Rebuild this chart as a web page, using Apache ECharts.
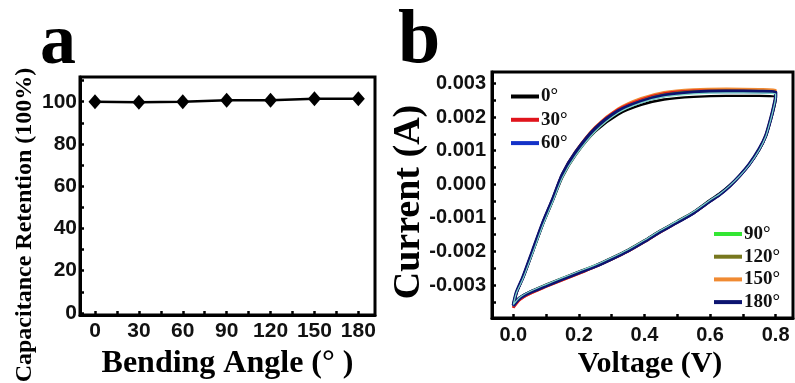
<!DOCTYPE html>
<html><head><meta charset="utf-8">
<script src="https://cdn.jsdelivr.net/npm/echarts@6/dist/echarts.min.js"></script>
<style>html,body{margin:0;padding:0;background:#fff}#c{width:795px;height:383px}</style>
</head><body><div id="c"></div>
<script>
// ---- Panel a data ----
const bendAngles = [0, 30, 60, 90, 120, 150, 180];
const retention = [100, 99.8, 100, 100.7, 100.7, 101.4, 101.4];
const aXLabels = [0, 30, 60, 90, 120, 150, 180];
const aXTicks = [0, 15, 30, 45, 60, 75, 90, 105, 120, 135, 150, 165, 180];
const aYLabels = [0, 20, 40, 60, 80, 100];
const aYTicks = [0, 10, 20, 30, 40, 50, 60, 70, 80, 90, 100, 110];

// ---- Panel b data (voltage in V, current in mA) ----
const cvVoltage = [0, 0.01, 0.03, 0.06, 0.09, 0.12, 0.15, 0.19, 0.25, 0.32, 0.39, 0.46, 0.55, 0.65, 0.75, 0.8,
  0.8, 0.795, 0.785, 0.77, 0.75, 0.72, 0.69, 0.66, 0.63, 0.6, 0.55, 0.5, 0.45, 0.4, 0.35, 0.3, 0.25, 0.2, 0.15, 0.1, 0.05, 0.02, 0];
const current0 = [-3.56, -3.21, -2.78, -2.00, -1.20, -0.50, 0.22, 0.87, 1.57, 2.08, 2.36, 2.52, 2.60, 2.63, 2.63, 2.61,
  2.52, 2.27, 1.90, 1.42, 1.02, 0.59, 0.26, -0.03, -0.27, -0.47, -0.82, -1.10, -1.37, -1.67, -1.95, -2.19, -2.41, -2.60, -2.79, -2.99, -3.20, -3.37, -3.56];
const current30 = [-3.68, -3.23, -2.75, -1.95, -1.14, -0.44, 0.31, 0.97, 1.69, 2.23, 2.52, 2.70, 2.78, 2.79, 2.77, 2.75,
  2.62, 2.35, 1.95, 1.45, 1.04, 0.59, 0.24, -0.06, -0.31, -0.51, -0.86, -1.14, -1.42, -1.72, -2.00, -2.24, -2.46, -2.66, -2.85, -3.05, -3.26, -3.44, -3.68];
const current60 = [-3.62, -3.21, -2.74, -1.94, -1.13, -0.43, 0.31, 0.96, 1.67, 2.19, 2.47, 2.65, 2.73, 2.75, 2.74, 2.72,
  2.60, 2.34, 1.94, 1.44, 1.04, 0.59, 0.24, -0.06, -0.31, -0.51, -0.86, -1.14, -1.41, -1.71, -1.99, -2.23, -2.45, -2.64, -2.83, -3.03, -3.23, -3.40, -3.62];
const current90 = [-3.58, -3.22, -2.80, -2.03, -1.23, -0.53, 0.20, 0.85, 1.57, 2.12, 2.42, 2.60, 2.69, 2.72, 2.71, 2.69,
  2.58, 2.32, 1.92, 1.42, 1.02, 0.58, 0.24, -0.04, -0.28, -0.47, -0.81, -1.09, -1.36, -1.66, -1.94, -2.18, -2.40, -2.59, -2.78, -2.98, -3.19, -3.36, -3.58];
const current120 = [-3.63, -3.21, -2.76, -1.97, -1.17, -0.47, 0.28, 0.93, 1.64, 2.18, 2.48, 2.67, 2.76, 2.78, 2.77, 2.75,
  2.62, 2.35, 1.95, 1.45, 1.05, 0.60, 0.25, -0.05, -0.30, -0.50, -0.85, -1.13, -1.40, -1.70, -1.98, -2.22, -2.44, -2.63, -2.82, -3.02, -3.22, -3.39, -3.63];
const current150 = [-3.66, -3.22, -2.75, -1.95, -1.14, -0.43, 0.32, 0.98, 1.71, 2.25, 2.56, 2.74, 2.82, 2.84, 2.83, 2.81,
  2.66, 2.38, 1.97, 1.46, 1.05, 0.60, 0.25, -0.05, -0.30, -0.51, -0.86, -1.14, -1.42, -1.72, -2.00, -2.24, -2.46, -2.66, -2.85, -3.05, -3.26, -3.43, -3.66];
const current180 = [-3.60, -3.20, -2.75, -1.95, -1.15, -0.45, 0.30, 0.95, 1.66, 2.18, 2.46, 2.64, 2.74, 2.77, 2.76, 2.74,
  2.62, 2.35, 1.95, 1.45, 1.05, 0.60, 0.25, -0.05, -0.30, -0.50, -0.85, -1.13, -1.40, -1.70, -1.98, -2.22, -2.44, -2.63, -2.82, -3.02, -3.22, -3.38, -3.60];
const cvNames = ['0°', '30°', '60°', '90°', '120°', '150°', '180°'];
const cvColors = ['#000000', '#e0141c', '#1432c8', '#33e633', '#77771e', '#f08a32', '#0c1470'];
const cvCurrents = [current0, current30, current60, current90, current120, current150, current180];
const drawOrder = [5, 1, 4, 0, 2, 6, 3];
const bXLabels = [0, 0.2, 0.4, 0.6, 0.8];
const bXTicks = [0, 0.1, 0.2, 0.3, 0.4, 0.5, 0.6, 0.7, 0.8];
const bYLabels = [-3, -2, -1, 0, 1, 2, 3];
const bYTicks = [-3.5, -3, -2.5, -2, -1.5, -1, -0.5, 0, 0.5, 1, 1.5, 2, 2.5, 3];

const sans = 'Liberation Sans';
const serif = 'Liberation Serif';
const chart = echarts.init(document.getElementById('c'), null, {renderer: 'canvas'});

const lineWidths = {0: 2.4, 1: 2.4, 2: 2.4, 3: 1.2, 4: 2.4, 5: 2.4, 6: 3.4};
const cvSeries = drawOrder.map(i => ({
  name: cvNames[i], type: 'line', xAxisIndex: 1, yAxisIndex: 1,
  data: cvVoltage.map((v, k) => [v, cvCurrents[i][k]]),
  showSymbol: false, smooth: 0.25, color: cvColors[i],
  lineStyle: {width: lineWidths[i], color: i === 3 ? '#7fd8c8' : cvColors[i]}, z: 3
}));

const option = {
  animation: false,
  backgroundColor: '#fff',
  grid: [
    {left: 80, top: 77, width: 295, height: 238, show: true, borderColor: '#000', borderWidth: 3, z: 5},
    {left: 492, top: 72, width: 301, height: 246, show: true, borderColor: '#000', borderWidth: 3, z: 5}
  ],
  xAxis: [
    {type: 'value', gridIndex: 0, min: -10.25, max: 191.4,
      axisLine: {onZero: false, lineStyle: {color: '#000', width: 3}},
      axisTick: {inside: true, length: 4, lineStyle: {width: 2.5, color: '#000'}, customValues: aXTicks},
      axisLabel: {customValues: aXLabels, color: '#111', fontFamily: sans, fontWeight: 'bold', fontSize: 21, margin: 6},
      splitLine: {show: false}},
    {type: 'value', gridIndex: 1, min: -0.065, max: 0.853,
      axisLine: {onZero: false, lineStyle: {color: '#000', width: 3}},
      axisTick: {inside: true, length: 4, lineStyle: {width: 2.5, color: '#000'}, customValues: bXTicks},
      axisLabel: {customValues: bXLabels, color: '#111', fontFamily: sans, fontWeight: 'bold', fontSize: 20, margin: 7,
        formatter: v => v.toFixed(1)},
      splitLine: {show: false}}
  ],
  yAxis: [
    {type: 'value', gridIndex: 0, min: -1, max: 111.7,
      axisLine: {show: true, onZero: false, lineStyle: {color: '#000', width: 3}},
      axisTick: {show: true, inside: true, length: 4, lineStyle: {width: 2.5, color: '#000'}, customValues: aYTicks},
      axisLabel: {customValues: aYLabels, color: '#111', fontFamily: sans, fontWeight: 'bold', fontSize: 21, margin: 3},
      splitLine: {show: false}},
    {type: 'value', gridIndex: 1, min: -3.98, max: 3.34,
      axisLine: {show: true, onZero: false, lineStyle: {color: '#000', width: 3}},
      axisTick: {show: true, inside: true, length: 4, lineStyle: {width: 2.5, color: '#000'}, customValues: bYTicks},
      axisLabel: {customValues: bYLabels, color: '#111', fontFamily: sans, fontWeight: 'bold', fontSize: 20, margin: 6,
        formatter: v => (v / 1000).toFixed(3)},
      splitLine: {show: false}}
  ],
  legend: [
    {data: ['0°', '30°', '60°'], orient: 'vertical', left: 506, top: 81.5, icon: 'rect', itemWidth: 28, itemHeight: 4,
      itemGap: 3.3, itemStyle: {}, textStyle: {fontFamily: serif, fontWeight: 'bold', fontSize: 19, lineHeight: 20, color: '#111', padding: [0, 0, 0, -3]}},
    {data: ['90°', '120°', '150°', '180°'], orient: 'vertical', left: 709, top: 219, icon: 'rect', itemWidth: 28, itemHeight: 4,
      itemGap: 2.7, textStyle: {fontFamily: serif, fontWeight: 'bold', fontSize: 19, lineHeight: 20, color: '#111', padding: [0, 0, 0, -3]}}
  ],
  graphic: [
    {type: 'text', left: 40, top: 8, style: {text: 'a', font: 'bold 72px "Liberation Serif"', fill: '#000'}},
    {type: 'text', left: 398, top: 4, style: {text: 'b', font: 'bold 76px "Liberation Serif"', fill: '#000'}},
    {type: 'text', x: 25, y: 225, rotation: Math.PI / 2,
      style: {text: 'Capacitance Retention (100%)', font: 'bold 24px "Liberation Serif"', fill: '#000', textAlign: 'center', textVerticalAlign: 'middle'}},
    {type: 'text', x: 227.5, y: 364,
      style: {text: 'Bending Angle (° )', font: 'bold 32px "Liberation Serif"', fill: '#000', textAlign: 'center', textVerticalAlign: 'middle'}},
    {type: 'text', x: 409, y: 202, rotation: Math.PI / 2,
      style: {text: 'Current (A)', font: 'bold 38px "Liberation Serif"', fill: '#000', textAlign: 'center', textVerticalAlign: 'middle'}},
    {type: 'text', x: 650, y: 364,
      style: {text: 'Voltage (V)', font: 'bold 30px "Liberation Serif"', fill: '#000', textAlign: 'center', textVerticalAlign: 'middle'}}
  ],
  series: [
    {name: 'Retention', type: 'line', xAxisIndex: 0, yAxisIndex: 0,
      data: bendAngles.map((a, i) => [a, retention[i]]),
      symbol: 'diamond', symbolSize: [13, 15], color: '#000',
      lineStyle: {width: 2.5, color: '#000'}, itemStyle: {color: '#000'}}
  ].concat(cvSeries)
};
chart.setOption(option);
</script></body></html>
